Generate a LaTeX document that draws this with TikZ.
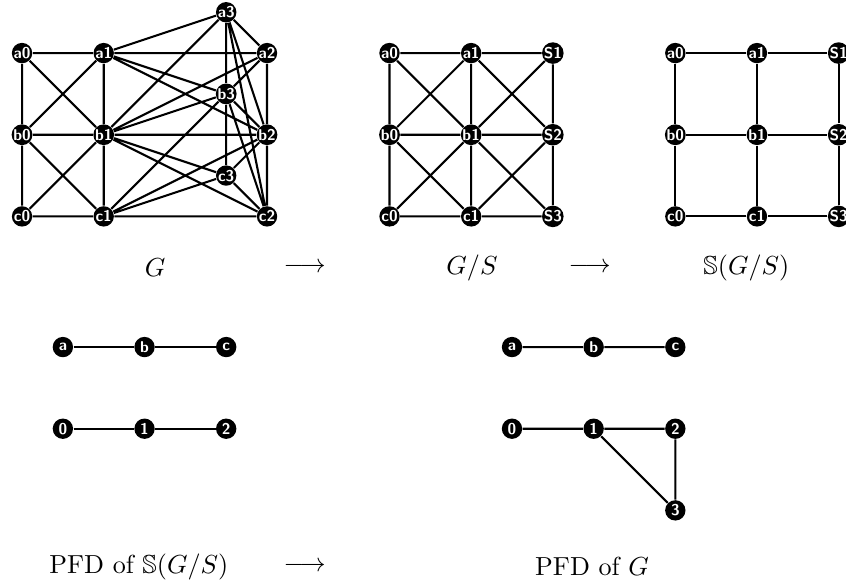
\documentclass[tikz,border=0pt]{standalone}
\usepackage{amsmath,amssymb}
\usetikzlibrary{positioning}

\begin{document}
\begin{tikzpicture}[x=1.1cm,y=1.1cm,
  v/.style={circle,fill=black,text=white,inner sep=0pt,minimum size=7.8pt,
    font=\sffamily\bfseries\fontsize{6}{6}\selectfont}]
\useasboundingbox (-0.27,-6.52) rectangle (10.09,0.65);

% G
\node[v] (a0) at (0,0) {a0};
\node[v] (a1) at (1,0) {a1};
\node[v] (a2) at (3,0) {a2};
\node[v] (b0) at (0,-1) {b0};
\node[v] (b1) at (1,-1) {b1};
\node[v] (b2) at (3,-1) {b2};
\node[v] (c0) at (0,-2) {c0};
\node[v] (c1) at (1,-2) {c1};
\node[v] (c2) at (3,-2) {c2};
\node[v] (a3) at (2.5,0.5) {a3};
\node[v] (b3) at (2.5,-0.5) {b3};
\node[v] (c3) at (2.5,-1.5) {c3};

\draw[thick]
  (a0)--(a1)--(a2)--(b2)--(c2)--(c1)--(c0)--(b0)--(a0)
  (b0)--(b1)--(b2) (a1)--(b1)--(c1)
  (a0)--(b1)--(c0) (a1)--(b0)--(c1)

  (a1)--(a3)--(b1) (a1)--(b3) (a1)--(b2)
  (a3)--(b3)--(c3) (a3)--(a2) (a3)--(b2) (a3)--(c2)
  (a2)--(b1) (a2)--(b3)
  (b3)--(b1) (b3)--(c1) (b3)--(b2) (b3)--(c2)
  (c3)--(b1) (c3)--(c1) (c3)--(b2) (c3)--(c2)
  (b1)--(c2) (b2)--(c1);

% G/S
\node[v] (a0') at (4.5,0) {a0};
\node[v] (a1') at (5.5,0) {a1};
\node[v] (S1') at (6.5,0) {S1};
\node[v] (b0') at (4.5,-1) {b0};
\node[v] (b1') at (5.5,-1) {b1};
\node[v] (S2') at (6.5,-1) {S2};
\node[v] (c0') at (4.5,-2) {c0};
\node[v] (c1') at (5.5,-2) {c1};
\node[v] (S3') at (6.5,-2) {S3};

\draw[thick]
  (a0')--(a1')--(S1')--(S2')--(S3')--(c1')--(c0')--(b0')--(a0')
  (b0')--(b1')--(S2') (a1')--(b1')--(c1')
  (a0')--(b1')--(S3') (c0')--(b1')--(S1')
  (b0')--(a1')--(S2')--(c1')--(b0');

% S(G/S)
\node[v] (a0'') at (8,0) {a0};
\node[v] (a1'') at (9,0) {a1};
\node[v] (S1'') at (10,0) {S1};
\node[v] (b0'') at (8,-1) {b0};
\node[v] (b1'') at (9,-1) {b1};
\node[v] (S2'') at (10,-1) {S2};
\node[v] (c0'') at (8,-2) {c0};
\node[v] (c1'') at (9,-2) {c1};
\node[v] (S3'') at (10,-2) {S3};

\draw[thick]
  (a0'')--(a1'')--(S1'')--(S2'')--(S3'')--(c1'')--(c0'')--(b0'')--(a0'')
  (b0'')--(b1'')--(S2'') (a1'')--(b1'')--(c1'');

\node (g) at (1.63,-2.63) {$G$};
\node (to1) at (3.46,-2.63) {$\longrightarrow$};
\node (gs) at (5.51,-2.63) {$G/S$};
\node (to2) at (6.95,-2.63) {$\longrightarrow$};
\node (sgs) at (8.87,-2.63) {$\mathbb{S}(G/S)$};

% PFD of S(G/S)
\node[v] (pa) at (0.5,-3.6) {a};
\node[v] (pb) at (1.5,-3.6) {b};
\node[v] (pc) at (2.5,-3.6) {c};
\node[v] (p0) at (0.5,-4.6) {0};
\node[v] (p1) at (1.5,-4.6) {1};
\node[v] (p2) at (2.5,-4.6) {2};

\draw[thick] (pa)--(pb)--(pc) (p0)--(p1)--(p2);

% PFD of G
\node[v] (pa') at (6,-3.6) {a};
\node[v] (pb') at (7,-3.6) {b};
\node[v] (pc') at (8,-3.6) {c};
\node[v] (p0') at (6,-4.6) {0};
\node[v] (p1') at (7,-4.6) {1};
\node[v] (p2') at (8,-4.6) {2};
\node[v] (p3') at (8,-5.6) {3};

\draw[thick] (pa')--(pb')--(pc') (p0')--(p1')--(p2')--(p3')--(p1');

\node (pfd1) at (1.43,-6.29) {PFD of $\mathbb{S}(G/S)$};
\node (to3) at (3.46,-6.29) {$\longrightarrow$};
\node (pfd2) at (6.98,-6.29) {PFD of $G$};
\end{tikzpicture}
\end{document}
